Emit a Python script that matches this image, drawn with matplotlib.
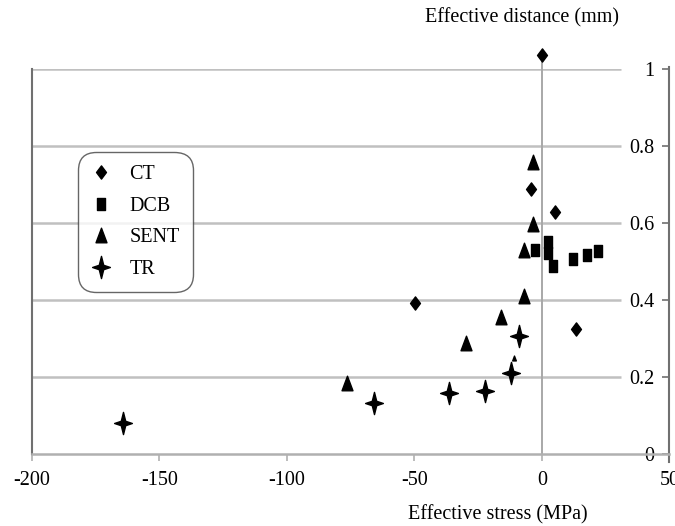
import matplotlib
matplotlib.use("Agg")
import matplotlib.pyplot as plt
from matplotlib.path import Path

plt.rcParams['font.family'] = ['Liberation Serif', 'DejaVu Serif']
plt.rcParams['font.size'] = 14.5

# Effective stress (MPa) vs effective distance (mm)
ct_x = [0.0, -4.3, 5.1, -49.8, 13.3]
ct_y = [1.036, 0.688, 0.629, 0.392, 0.325]

dcb_x = [-2.7, 2.4, 2.4, 4.3, 12.2, 17.6, 22.0]
dcb_y = [0.530, 0.551, 0.522, 0.488, 0.506, 0.517, 0.527]

sent_x = [-3.5, -3.5, -7.1, -7.1, -16.1, -29.8, -76.5]
sent_y = [0.758, 0.597, 0.530, 0.410, 0.356, 0.288, 0.184]
sent_small_x = [-11.0]
sent_small_y = [0.250]

tr_x = [-164.3, -65.9, -36.5, -22.4, -12.2, -9.0]
tr_y = [0.080, 0.132, 0.158, 0.164, 0.210, 0.306]

x_ticks = [-200, -150, -100, -50, 0, 50]
y_ticks = [0, 0.2, 0.4, 0.6, 0.8, 1]
y_labels = ['0', '0.2', '0.4', '0.6', '0.8', '1']

# marker shapes (a bit taller than wide, like the original)
diamond = Path([(0, 1), (0.75, 0), (0, -1), (-0.75, 0), (0, 1)],
               [Path.MOVETO] + [Path.LINETO] * 3 + [Path.CLOSEPOLY])
square = Path([(-0.75, -1), (0.75, -1), (0.75, 1), (-0.75, 1), (-0.75, -1)],
              [Path.MOVETO] + [Path.LINETO] * 3 + [Path.CLOSEPOLY])
triangle = Path([(0, 1), (0.75, -1), (-0.75, -1), (0, 1)],
                [Path.MOVETO] + [Path.LINETO] * 2 + [Path.CLOSEPOLY])
star = Path([(0, 1), (0.2, 0.2), (0.8, 0), (0.2, -0.2), (0, -1),
             (-0.2, -0.2), (-0.8, 0), (-0.2, 0.2), (0, 1)],
            [Path.MOVETO] + [Path.LINETO] * 7 + [Path.CLOSEPOLY])

fig = plt.figure(figsize=(6.75, 5.26), dpi=100)
ax = fig.add_axes([0.0474, 0.1369, 0.9444, 0.7319])

grid_c = '#c0c0c0'
for yv in y_ticks[1:]:
    ax.plot([-200, 31], [yv, yv], color=grid_c, lw=1.8, zorder=1, solid_capstyle='butt')
ax.plot([0, 0], [0, 1.03], color='#a8a8a8', lw=1.4, zorder=1, clip_on=False)

kw = dict(ls='none', color='black', clip_on=False, zorder=3)
ax.plot(ct_x, ct_y, marker=diamond, markersize=9.5, label='CT', **kw)
ax.plot(dcb_x, dcb_y, marker=square, markersize=8, label='DCB', **kw)
ax.plot(sent_x, sent_y, marker=triangle, markersize=10.5, label='SENT', **kw)
ax.plot(tr_x, tr_y, marker=star, markersize=16, label='TR', **kw)
ax.plot(sent_small_x, sent_small_y, marker=triangle, markersize=3.5, **kw)

ax.set_xlim(-200, 50)
ax.set_ylim(0, 1)

# spines: left + bottom + right axis line at x=50
ax.spines['top'].set_visible(False)
ax.spines['left'].set_color('#707070')
ax.spines['left'].set_linewidth(1.5)
ax.spines['bottom'].set_color('#b0b0b0')
ax.spines['bottom'].set_linewidth(1.8)
ax.spines['right'].set_color('#707070')
ax.spines['right'].set_linewidth(1.5)
ax.spines['right'].set_bounds(-0.02, 1.005)

ax.set_xticks(x_ticks)
ax.set_xticklabels([str(v) for v in x_ticks])
ax.tick_params(axis='x', direction='out', length=5, color='#b0b0b0', width=1.2, pad=7)

ax.yaxis.tick_right()
ax.set_yticks(y_ticks)
ax.set_yticklabels(y_labels)
ax.tick_params(axis='y', direction='in', length=5, color='#707070', width=1.2, pad=-11)
for lab in ax.get_yticklabels():
    lab.set_horizontalalignment('right')

fig.text(0.773, 0.966, 'Effective distance (mm)', ha='center', va='center')
fig.text(0.737, 0.021, 'Effective stress (MPa)', ha='center', va='center')

leg = ax.legend(loc='upper left', bbox_to_anchor=(0.072, 0.785), frameon=True,
                handlelength=1.0, handletextpad=0.9, labelspacing=0.62,
                borderpad=0.65, borderaxespad=0, fontsize=14.5)
leg.get_frame().set_edgecolor('#404040')
leg.get_frame().set_linewidth(1.0)
leg.get_frame().set_boxstyle('round', pad=0.0, rounding_size=0.9)

plt.savefig('out.png', dpi=100)
plt.close()
